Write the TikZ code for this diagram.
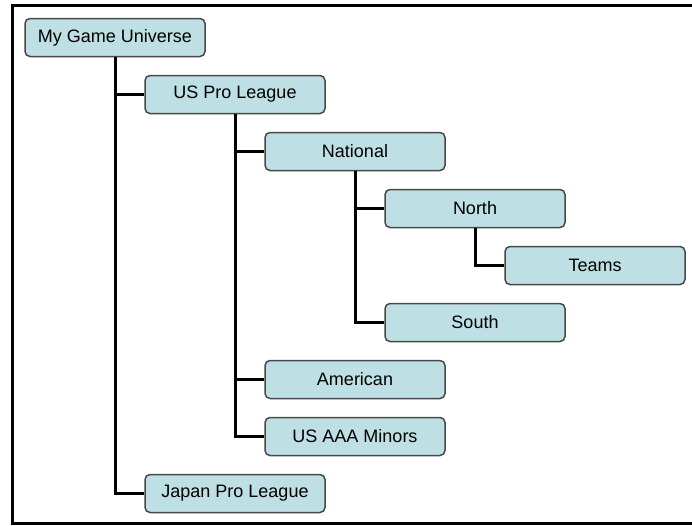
\documentclass[tikz,border=0pt]{standalone}
\usepackage{fontspec}
\setmainfont{Liberation Sans}
\usetikzlibrary{positioning}
\definecolor{boxfill}{RGB}{190,224,228}
\definecolor{boxline}{RGB}{72,72,72}
\tikzstyle{level} = [rectangle, draw=boxline, line width=1.5pt, fill=boxfill, rounded corners=5pt, minimum width=180pt, minimum height=38pt, inner sep=0pt, font=\fontsize{18}{21}\selectfont]
\tikzstyle{link} = [line width=3pt, black]
\tikzstyle{frame} = [line width=3pt, black]
\begin{document}
\begin{tikzpicture}[x=1pt,y=1pt]
            \useasboundingbox (0,0) rectangle (692,-525);
            \draw[frame] (692,-5.5) -- (12,-5.5) -- (12,-523) -- (692,-523);

            \node [level] (root) at (115,-37.5) {My Game Universe};
            \node [level, below right=17.5pt and -61.5pt of root] (uspro) {US Pro League};
            \node [level, below right=17.5pt and -61.5pt of uspro] (national) {National};
            \node [level, below right=17.5pt and -61.5pt of national] (north) {North};
            \node [level, below right=17.5pt and -61.5pt of north] (teams) {Teams};
            \node [level, below left=17.5pt and -61.5pt of teams] (south) {South};
            \node [level, below left=17.5pt and -61.5pt of south] (american) {American};
            \node [level, below=17.5pt of american] (minors) {US AAA Minors};
            \node [level, below left=17.5pt and -61.5pt of minors] (japan) {Japan Pro League};

            \draw[link](root.south) |- (uspro.west);
            \draw[link](root.south) |- (japan.west);
            \draw[link](uspro.south) |- (national.west);
            \draw[link](uspro.south) |- (american.west);
            \draw[link](uspro.south) |- (minors.west);
            \draw[link](national.south) |- (north.west);
            \draw[link](national.south) |- (south.west);
            \draw[link](north.south) |- (teams.west);
        \end{tikzpicture}
\end{document}
